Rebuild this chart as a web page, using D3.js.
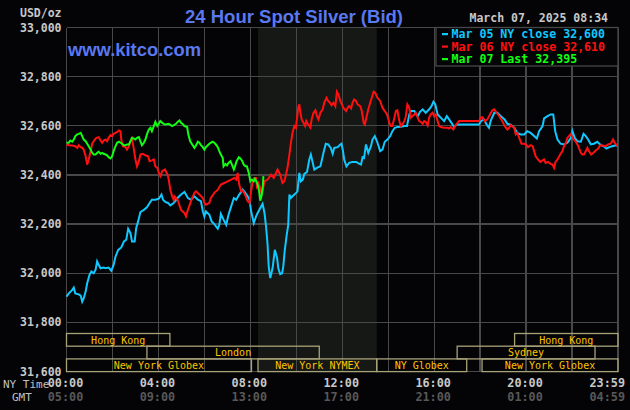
<!DOCTYPE html>
<html><head><meta charset="utf-8">
<script src="https://cdn.jsdelivr.net/npm/d3@7"></script>
<style>
html,body{margin:0;padding:0;background:#040407;}
svg{display:block;}
</style></head>
<body>
<svg id="chart" width="630" height="410"></svg>
<script>
// ---- data ----
const title = "24 Hour Spot Silver (Bid)";
const siteLabel = "www.kitco.com";
const stampLabel = "March 07, 2025 08:34";
const unitLabel = "USD/oz";
const yTicks = [31600, 31800, 32000, 32200, 32400, 32600, 32800, 33000];
const xTickMinutes = [0, 240, 480, 720, 960, 1200, 1439];
const nyLabels = ["00:00", "04:00", "08:00", "12:00", "16:00", "20:00", "23:59"];
const gmtLabels = ["05:00", "09:00", "13:00", "17:00", "21:00", "01:00", "04:59"];
const legendLabels = ["Mar 05 NY close 32,600", "Mar 06 NY close 32,610", "Mar 07 Last 32,395"];
const sessions = [
  {name: "Hong Kong", row: 0, start: 0, end: 270},
  {name: "London", row: 1, start: 210, end: 660},
  {name: "New York Globex", row: 2, start: 0, end: 483},
  {name: "New York NYMEX", row: 2, start: 500, end: 810},
  {name: "NY Globex", row: 2, start: 810, end: 1045},
  {name: "New York Globex", row: 2, start: 1085, end: 1440},
  {name: "Sydney", row: 1, start: 1020, end: 1380},
  {name: "Hong Kong", row: 0, start: 1170, end: 1440}
];
const nymexShade = [500, 810];

// [minute of NY day, price]
const mar05 = [[0,31905],[6,31918],[15,31932],[19,31941],[23,31918],[32,31914],[37,31909],[41,31884],[45,31898],[50,31925],[54,31959],[60,31993],[65,32007],[71,32000],[76,32014],[80,32048],[84,32034],[89,32020],[97,32023],[102,32020],[110,32023],[117,32010],[123,32034],[128,32068],[135,32095],[143,32105],[150,32129],[156,32136],[161,32181],[167,32163],[171,32129],[178,32129],[182,32184],[187,32211],[193,32249],[202,32258],[210,32268],[217,32286],[223,32299],[232,32299],[241,32303],[248,32320],[252,32299],[258,32290],[265,32286],[271,32276],[280,32286],[290,32306],[299,32320],[308,32331],[317,32306],[325,32299],[334,32313],[343,32299],[351,32293],[356,32252],[360,32231],[364,32252],[373,32238],[379,32211],[386,32200],[395,32181],[399,32197],[403,32241],[410,32218],[417,32197],[423,32238],[430,32272],[437,32306],[443,32299],[451,32320],[460,32340],[464,32333],[473,32313],[478,32299],[482,32252],[489,32204],[495,32231],[499,32245],[506,32265],[512,32282],[517,32245],[521,32191],[525,32116],[528,32027],[532,31980],[538,32020],[544,32095],[550,32061],[553,32020],[558,31996],[563,32000],[566,32027],[570,32095],[575,32156],[579,32197],[582,32320],[586,32306],[590,32313],[595,32320],[599,32326],[603,32333],[608,32408],[612,32374],[617,32381],[621,32404],[628,32412],[634,32463],[638,32483],[643,32449],[647,32422],[656,32431],[663,32435],[666,32456],[671,32490],[677,32527],[683,32524],[690,32510],[695,32486],[699,32510],[708,32513],[715,32524],[718,32527],[722,32497],[725,32463],[731,32435],[738,32449],[747,32453],[756,32453],[764,32446],[769,32442],[773,32472],[777,32469],[782,32524],[788,32490],[795,32517],[799,32544],[805,32558],[812,32531],[819,32497],[825,32503],[831,32535],[838,32544],[845,32558],[851,32578],[857,32592],[864,32595],[873,32596],[882,32599],[889,32599],[895,32646],[899,32660],[908,32660],[917,32639],[923,32657],[930,32667],[938,32653],[947,32667],[953,32680],[958,32698],[963,32687],[969,32646],[977,32633],[986,32619],[993,32639],[999,32626],[1008,32605],[1012,32595],[1017,32603],[1021,32605],[1077,32605],[1082,32619],[1090,32626],[1097,32605],[1103,32592],[1108,32622],[1117,32653],[1125,32653],[1134,32639],[1144,32626],[1151,32608],[1160,32605],[1169,32592],[1177,32571],[1186,32565],[1195,32565],[1203,32578],[1212,32571],[1221,32558],[1228,32548],[1234,32578],[1243,32599],[1247,32630],[1256,32639],[1264,32646],[1271,32646],[1276,32578],[1282,32544],[1290,32527],[1299,32524],[1308,32531],[1317,32551],[1321,32578],[1327,32551],[1334,32537],[1343,32535],[1350,32567],[1356,32558],[1362,32544],[1369,32524],[1377,32527],[1386,32535],[1395,32521],[1403,32517],[1410,32507],[1417,32513],[1425,32517],[1434,32521],[1439,32517]];

const mar06 = [[0,32524],[6,32521],[15,32520],[23,32517],[28,32510],[32,32521],[37,32513],[41,32510],[45,32503],[50,32476],[54,32442],[58,32463],[63,32497],[67,32527],[74,32544],[78,32551],[84,32554],[89,32540],[93,32531],[97,32540],[102,32544],[106,32537],[110,32551],[115,32562],[119,32558],[123,32567],[128,32571],[132,32574],[137,32581],[141,32578],[143,32544],[147,32517],[154,32513],[158,32503],[163,32517],[167,32537],[171,32548],[176,32503],[180,32463],[184,32435],[189,32456],[193,32483],[199,32486],[206,32480],[213,32476],[217,32456],[223,32459],[228,32463],[232,32435],[237,32429],[241,32408],[245,32395],[250,32415],[257,32422],[263,32404],[267,32381],[271,32340],[276,32313],[280,32299],[282,32313],[290,32299],[299,32258],[308,32245],[312,32231],[317,32258],[325,32293],[334,32327],[338,32333],[347,32320],[356,32306],[360,32286],[364,32279],[373,32286],[377,32306],[386,32327],[395,32340],[403,32361],[412,32367],[421,32374],[430,32381],[438,32388],[443,32381],[447,32408],[451,32361],[456,32333],[460,32336],[466,32320],[473,32293],[478,32286],[482,32333],[486,32374],[490,32388],[495,32388],[497,32354],[501,32367],[506,32347],[510,32320],[517,32374],[525,32381],[534,32401],[541,32388],[547,32408],[551,32422],[558,32401],[564,32367],[569,32374],[573,32401],[577,32429],[582,32483],[586,32531],[590,32571],[595,32599],[599,32592],[602,32633],[605,32673],[608,32687],[610,32660],[614,32626],[619,32612],[623,32599],[626,32619],[631,32605],[637,32592],[640,32626],[645,32653],[650,32663],[654,32639],[658,32626],[663,32653],[669,32667],[673,32694],[679,32714],[683,32701],[688,32694],[692,32684],[697,32694],[702,32680],[706,32739],[710,32728],[715,32701],[719,32687],[723,32673],[730,32660],[734,32673],[738,32680],[743,32671],[747,32694],[751,32707],[756,32701],[760,32687],[767,32680],[771,32660],[776,32612],[779,32605],[783,32633],[788,32667],[793,32694],[797,32714],[802,32739],[806,32735],[812,32714],[819,32701],[825,32673],[831,32660],[837,32646],[843,32612],[847,32599],[851,32599],[857,32639],[860,32660],[864,32663],[869,32619],[873,32599],[877,32605],[882,32619],[886,32639],[890,32687],[895,32673],[899,32633],[903,32639],[908,32646],[912,32653],[917,32633],[921,32619],[925,32616],[930,32608],[934,32619],[938,32616],[943,32601],[947,32633],[951,32646],[956,32653],[960,32639],[964,32646],[969,32619],[973,32599],[977,32595],[986,32592],[995,32592],[999,32589],[1003,32595],[1010,32585],[1015,32599],[1021,32612],[1025,32619],[1077,32619],[1082,32633],[1086,32635],[1092,32619],[1099,32626],[1106,32646],[1112,32663],[1117,32667],[1123,32653],[1130,32639],[1138,32619],[1144,32599],[1151,32585],[1156,32592],[1160,32603],[1169,32592],[1173,32565],[1177,32571],[1182,32551],[1188,32527],[1195,32527],[1200,32524],[1205,32513],[1212,32521],[1217,32517],[1221,32497],[1225,32476],[1231,32463],[1237,32453],[1243,32459],[1247,32463],[1251,32449],[1257,32453],[1264,32445],[1269,32442],[1273,32429],[1277,32453],[1282,32463],[1289,32483],[1295,32497],[1299,32517],[1304,32531],[1308,32551],[1312,32558],[1317,32567],[1321,32551],[1325,32544],[1330,32535],[1334,32524],[1338,32510],[1343,32490],[1347,32483],[1351,32483],[1356,32497],[1360,32510],[1364,32497],[1370,32483],[1376,32490],[1382,32499],[1388,32507],[1393,32521],[1399,32520],[1408,32517],[1414,32524],[1421,32527],[1427,32544],[1431,32531],[1439,32517]];

const mar07 = [[0,32531],[6,32531],[10,32540],[15,32535],[19,32544],[23,32558],[28,32565],[32,32567],[37,32571],[41,32558],[45,32544],[50,32537],[54,32527],[58,32517],[63,32503],[67,32490],[71,32483],[76,32483],[80,32490],[84,32494],[89,32486],[93,32490],[97,32486],[102,32483],[106,32480],[110,32472],[115,32467],[119,32476],[123,32497],[128,32517],[132,32531],[137,32535],[141,32531],[145,32527],[150,32521],[154,32521],[158,32524],[163,32524],[167,32537],[171,32551],[176,32548],[180,32544],[184,32551],[189,32554],[193,32537],[197,32521],[202,32531],[206,32544],[210,32565],[215,32585],[219,32592],[223,32578],[228,32599],[232,32616],[237,32599],[241,32608],[245,32619],[250,32612],[254,32608],[258,32605],[267,32608],[276,32599],[286,32608],[290,32616],[295,32622],[299,32612],[303,32608],[308,32599],[315,32595],[318,32565],[323,32537],[327,32527],[334,32510],[338,32520],[343,32535],[347,32531],[351,32521],[356,32513],[360,32503],[364,32513],[369,32521],[373,32527],[377,32531],[382,32535],[386,32531],[390,32524],[395,32513],[399,32497],[403,32483],[408,32469],[410,32435],[415,32445],[419,32439],[423,32449],[428,32456],[432,32442],[437,32422],[440,32435],[444,32456],[450,32472],[454,32467],[458,32459],[463,32442],[467,32435],[471,32435],[476,32408],[480,32374],[484,32381],[489,32374],[492,32384],[496,32374],[499,32361],[503,32333],[506,32295],[510,32320],[513,32361],[514,32395]];

const seriesColors = ["#10c8ff", "#ff1010", "#10ff10"];

// ---- chart ----
(function () {
const svg = d3.select("#chart");
const W = 630, H = 410;
const pLeft = 66.5, pRight = 618, pTop = 27.5, pBottom = 371.5;
const mono = "'DejaVu Sans Mono', monospace";

svg.append("rect").attr("width", W).attr("height", H).attr("fill", "#040407");

const x = d3.scaleLinear().domain([0, 1440]).range([pLeft, pRight]);
const y = d3.scaleLinear().domain([31600, 33000]).range([pBottom, pTop]);

// NYMEX shading
svg.append("rect")
  .attr("x", x(nymexShade[0])).attr("y", pTop)
  .attr("width", x(nymexShade[1]) - x(nymexShade[0]))
  .attr("height", pBottom - pTop)
  .attr("fill", "#151815");

// grid
const grid = svg.append("g").attr("stroke", "#484848").attr("stroke-width", 1.3).attr("shape-rendering", "crispEdges");
grid.selectAll("line.h").data(yTicks).join("line")
  .attr("x1", pLeft).attr("x2", pRight)
  .attr("y1", d => y(d)).attr("y2", d => y(d));
grid.selectAll("line.v").data(d3.range(0, 1441, 120)).join("line")
  .attr("y1", pTop).attr("y2", pBottom)
  .attr("x1", d => x(d)).attr("x2", d => x(d));

// y labels
svg.append("g").selectAll("text").data(yTicks).join("text")
  .attr("x", pLeft - 5).attr("y", d => y(d) + 4)
  .attr("text-anchor", "end")
  .attr("font-family", mono).attr("font-weight", "bold").attr("font-size", 11.5)
  .attr("fill", "#c8c8c8")
  .text(d => d3.format(",.3f")(d / 1000).replace(".", ","));

svg.append("text").attr("x", pLeft - 5).attr("y", 17)
  .attr("text-anchor", "end")
  .attr("font-family", mono).attr("font-weight", "bold").attr("font-size", 11.5)
  .attr("fill", "#c8c8c8").text(unitLabel);

// session boxes
const rowTop = 333.5, rowH = 12.7;
const sg = svg.append("g");
sg.selectAll("rect").data(sessions).join("rect")
  .attr("x", d => x(d.start)).attr("y", d => rowTop + d.row * rowH)
  .attr("width", d => x(d.end) - x(d.start)).attr("height", rowH)
  .attr("fill", "none").attr("stroke", "#a8a278").attr("stroke-width", 1.3);
sg.selectAll("text").data(sessions).join("text")
  .attr("x", d => (x(d.start) + x(d.end)) / 2)
  .attr("y", d => rowTop + d.row * rowH + 10)
  .attr("text-anchor", "middle")
  .attr("font-family", mono).attr("font-size", 10)
  .attr("fill", "#ffc400").text(d => d.name);

// lines
const line = d3.line().x(d => x(d[0])).y(d => y(d[1]));
[mar05, mar06, mar07].forEach((s, i) => {
  svg.append("path").datum(s).attr("d", line)
    .attr("fill", "none").attr("stroke", seriesColors[i])
    .attr("stroke-width", 2).attr("stroke-linejoin", "miter");
});

// legend
const lg = svg.append("g");
lg.append("rect").attr("x", 436).attr("y", pTop).attr("width", pRight - 436).attr("height", 38.5)
  .attr("fill", "#040407").attr("stroke", "#484848").attr("stroke-width", 1.3);
legendLabels.forEach((t, i) => {
  const by = 38 + i * 12.5;
  lg.append("rect").attr("x", 442).attr("y", by - 5).attr("width", 6).attr("height", 2.2).attr("fill", seriesColors[i]);
  lg.append("text").attr("x", 451.5).attr("y", by)
    .attr("font-family", mono).attr("font-weight", "bold").attr("font-size", 11.6)
    .attr("fill", seriesColors[i]).text(t);
});

// title etc.
svg.append("text").attr("x", 294).attr("y", 22.5).attr("text-anchor", "middle")
  .attr("font-family", "'Liberation Sans', Arial, sans-serif").attr("font-weight", "bold")
  .attr("font-size", 18.5).attr("fill", "#5a78f0")
  .attr("textLength", 218).attr("lengthAdjust", "spacingAndGlyphs").text(title);
svg.append("text").attr("x", 68).attr("y", 56)
  .attr("font-family", "'Liberation Sans', Arial, sans-serif").attr("font-weight", "bold")
  .attr("font-size", 18.5).attr("fill", "#5a78f0")
  .attr("textLength", 133).attr("lengthAdjust", "spacingAndGlyphs").text(siteLabel);
svg.append("text").attr("x", 608).attr("y", 22).attr("text-anchor", "end")
  .attr("font-family", mono).attr("font-weight", "bold").attr("font-size", 11.5)
  .attr("fill", "#c8c8c8").text(stampLabel);

// x labels
const last = xTickMinutes.length - 1;
const xl = svg.append("g").attr("font-family", mono).attr("font-weight", "bold").attr("font-size", 11.8);
xl.selectAll("text").data(xTickMinutes).join("text")
  .attr("x", (d, i) => i === last ? W - 5 : x(d) - 1)
  .attr("y", 387)
  .attr("text-anchor", (d, i) => i === last ? "end" : "middle")
  .attr("fill", "#c8c8c8").text((d, i) => nyLabels[i]);
const gl = svg.append("g").attr("font-family", mono).attr("font-weight", "bold").attr("font-size", 11.8);
gl.selectAll("text").data(xTickMinutes).join("text")
  .attr("x", (d, i) => i === last ? W - 5 : x(d) - 1)
  .attr("y", 401)
  .attr("text-anchor", (d, i) => i === last ? "end" : "middle")
  .attr("fill", "#585858").text((d, i) => gmtLabels[i]);

svg.append("text").attr("x", 3).attr("y", 388)
  .attr("font-family", mono).attr("font-size", 11).attr("fill", "#c0c0c0").text("NY Time");
svg.append("text").attr("x", 12).attr("y", 401)
  .attr("font-family", mono).attr("font-size", 11).attr("fill", "#c0c0c0").text("GMT");
})();
</script>
</body></html>
